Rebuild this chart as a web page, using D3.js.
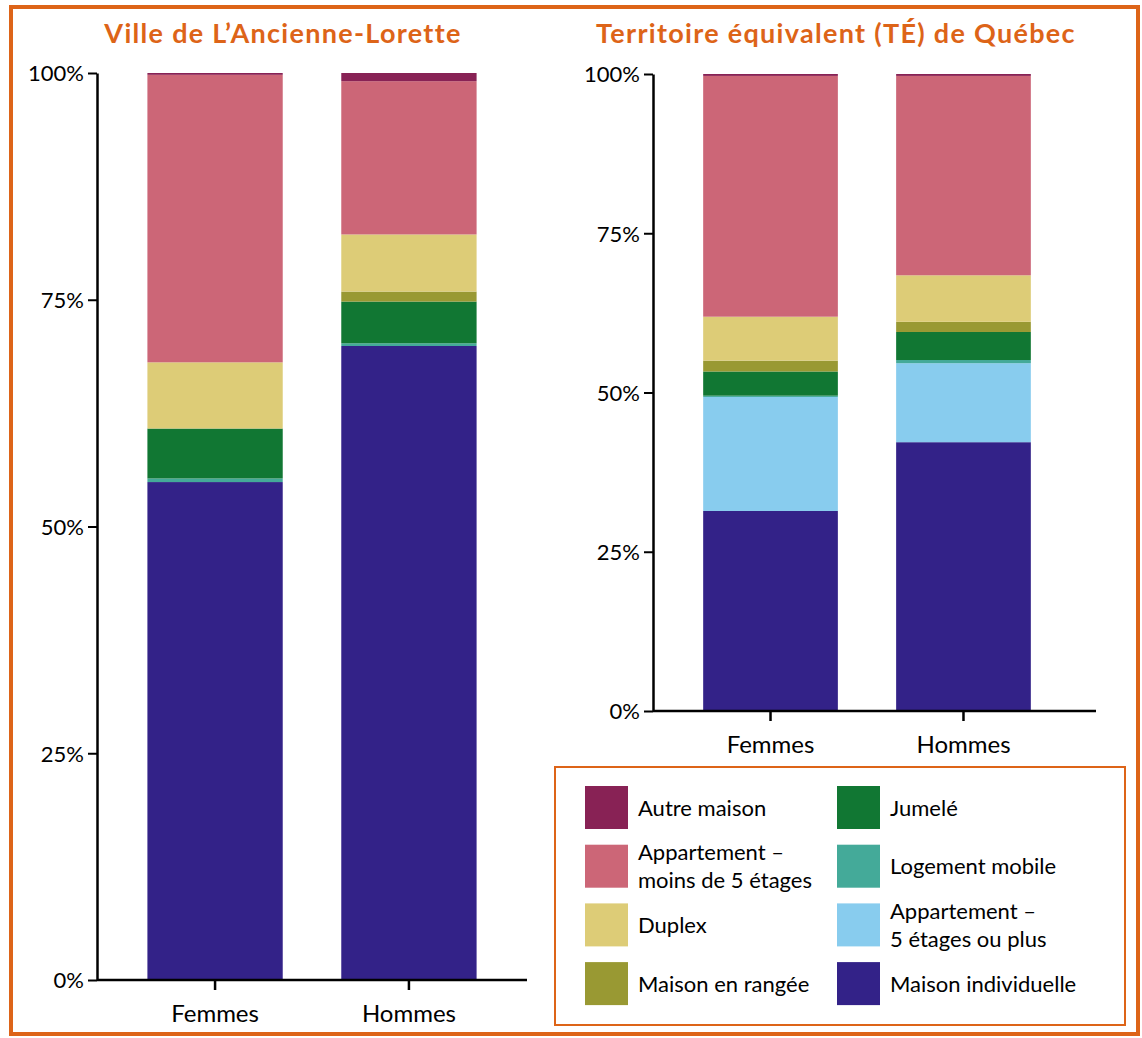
<!DOCTYPE html>
<html>
<head>
<meta charset="utf-8">
<script src="https://cdn.jsdelivr.net/npm/d3@7"></script>
<style>
  body { margin: 0; background: #fff; }
  text { font-family: Lato, "Noto Sans", sans-serif; fill: #000; }
</style>
</head>
<body>
<svg id="chart" width="1142" height="1038"></svg>
<script>
// categories (stack order: bottom -> top)
var types = [
  "Maison individuelle",
  "Appartement – 5 étages ou plus",
  "Logement mobile",
  "Jumelé",
  "Maison en rangée",
  "Duplex",
  "Appartement – moins de 5 étages",
  "Autre maison"
];
var colors = ["#332288", "#88CCEE", "#44AA99", "#117733", "#999933", "#DDCC77", "#CC6677", "#882255"];
var sexes = ["Femmes", "Hommes"];

// values in %, same order as types
var loretteFemmes = [54.9, 0, 0.4, 5.5, 0, 7.3, 31.7, 0.2];
var loretteHommes = [69.9, 0, 0.3, 4.6, 1.1, 6.3, 16.9, 0.9];
var quebecFemmes  = [31.4, 17.9, 0.2, 3.8, 1.7, 6.9, 37.8, 0.3];
var quebecHommes  = [42.2, 12.4, 0.5, 4.4, 1.6, 7.3, 31.3, 0.3];

var yTicks = [0, 25, 50, 75, 100];

// legend layout: two columns, label lines
var legendCols = [
  [["Autre maison"], ["Appartement –", "moins de 5 étages"], ["Duplex"], ["Maison en rangée"]],
  [["Jumelé"], ["Logement mobile"], ["Appartement –", "5 étages ou plus"], ["Maison individuelle"]]
];
var legendColors = [
  ["#882255", "#CC6677", "#DDCC77", "#999933"],
  ["#117733", "#44AA99", "#88CCEE", "#332288"]
];

var orange = "#DD6418";
var svg = d3.select("#chart");

// outer frame
svg.append("rect")
  .attr("x", 11).attr("y", 7)
  .attr("width", 1127).attr("height", 1027)
  .attr("fill", "none").attr("stroke", orange).attr("stroke-width", 4);

function toRows(f, h) {
  return sexes.map(function(s, i) {
    var vals = i == 0 ? f : h;
    var row = { sex: s };
    types.forEach(function(t, k) { row[t] = vals[k]; });
    return row;
  });
}

function drawPanel(opt) {
  var data = toRows(opt.f, opt.h);
  var stack = d3.stack().keys(types)(data);

  var x = d3.scaleBand().domain(sexes)
    .range([opt.x0, opt.x1])
    .paddingInner(0.302).paddingOuter(0.26);
  var y = d3.scaleLinear().domain([0, 100]).range([opt.y0, opt.y1]);

  var g = svg.append("g");

  g.append("text")
    .attr("x", opt.titleX).attr("y", 43)
    .attr("text-anchor", "middle")
    .style("font-size", "27px").style("font-weight", "bold")
    .style("letter-spacing", "1.3px")
    .style("fill", orange)
    .text(opt.title);

  g.selectAll("g.layer")
    .data(stack)
    .enter().append("g")
    .attr("class", "layer")
    .attr("fill", function(d, i) { return colors[i]; })
    .selectAll("rect")
    .data(function(d) { return d; })
    .enter().append("rect")
    .attr("x", function(d) { return x(d.data.sex); })
    .attr("width", x.bandwidth())
    .attr("y", function(d) { return y(d[1]); })
    .attr("height", function(d) { return y(d[0]) - y(d[1]); });

  var yAxis = g.append("g")
    .attr("transform", "translate(" + opt.x0 + ",0)")
    .call(d3.axisLeft(y).tickValues(yTicks).tickSize(9).tickSizeOuter(0)
      .tickFormat(function(d) { return d + "%"; }));
  yAxis.select(".domain").attr("stroke-width", 2.5);
  yAxis.selectAll(".tick line").attr("stroke-width", 2);
  yAxis.selectAll("text").style("font-size", "22px").attr("x", -13).attr("dy", "0.36em");

  var xAxis = g.append("g")
    .attr("transform", "translate(0," + opt.y0 + ")")
    .call(d3.axisBottom(x).tickSize(10).tickSizeOuter(0));
  xAxis.select(".domain").attr("d", "M" + opt.x0 + ",0H" + opt.xEnd).attr("stroke-width", 2.5);
  xAxis.selectAll(".tick line").attr("stroke-width", 2.5);
  xAxis.selectAll("text").style("font-size", "24px").attr("y", 42).attr("dy", 0);
}

drawPanel({
  title: "Ville de L’Ancienne-Lorette", titleX: 283,
  f: loretteFemmes, h: loretteHommes,
  x0: 97, x1: 527, xEnd: 527, y0: 980, y1: 73
});

drawPanel({
  title: "Territoire équivalent (TÉ) de Québec", titleX: 836,
  f: quebecFemmes, h: quebecHommes,
  x0: 653, x1: 1081, xEnd: 1096, y0: 711, y1: 74
});

// legend
var leg = svg.append("g");
leg.append("rect")
  .attr("x", 555).attr("y", 767)
  .attr("width", 570).attr("height", 258)
  .attr("fill", "none").attr("stroke", orange).attr("stroke-width", 2);

var colX = [585, 837];
legendCols.forEach(function(col, c) {
  col.forEach(function(lines, r) {
    var top = 786 + r * 58.7;
    var mid = top + 21.5;
    leg.append("rect")
      .attr("x", colX[c]).attr("y", top)
      .attr("width", 43).attr("height", 43)
      .attr("fill", legendColors[c][r]);
    var t = leg.append("text").style("font-size", "22px");
    lines.forEach(function(l, i) {
      t.append("tspan")
        .attr("x", colX[c] + 53)
        .attr("y", lines.length == 1 ? mid + 8 : mid - 6 + i * 28)
        .text(l);
    });
  });
});
</script>
</body>
</html>
